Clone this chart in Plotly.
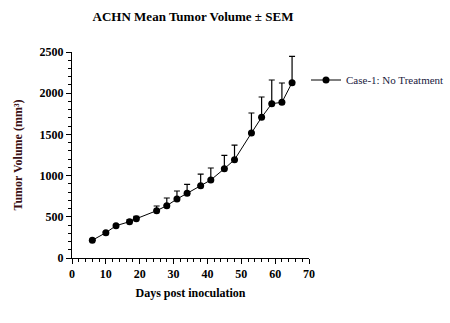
import plotly.graph_objects as go

days = [6, 10, 13, 17, 19, 25, 28, 31, 34, 38, 41, 45, 48, 53, 56, 59, 62, 65]
mean_vol = [215, 307, 392, 441, 477, 574, 635, 716, 785, 878, 947, 1084, 1193, 1517, 1707, 1873, 1889, 2128]
sem = [8, 10, 12, 24, 29, 57, 93, 97, 109, 141, 145, 162, 178, 243, 247, 287, 235, 319]
zeros = [0] * len(days)

font_family = "Liberation Serif, Times New Roman, serif"

fig = go.Figure()
fig.add_trace(go.Scatter(
    x=days, y=mean_vol, mode="lines+markers",
    name="Case-1: No Treatment",
    line=dict(color="black", width=1),
    marker=dict(color="black", size=7, symbol="circle"),
    error_y=dict(type="data", symmetric=False, array=sem, arrayminus=zeros,
                 color="black", thickness=1.2, width=3),
))

fig.update_layout(
    width=450, height=323, autosize=False,
    margin=dict(l=72, r=141, t=52, b=65, autoexpand=False),
    paper_bgcolor="white", plot_bgcolor="white",
    font=dict(family=font_family, color="black"),
    title=dict(text="<b>ACHN Mean Tumor Volume ± SEM</b>", xref="container", x=193 / 450, xanchor="center",
               yref="container", y=1 - 16 / 323, yanchor="middle",
               font=dict(size=13, family=font_family, color="black")),
    showlegend=True,
    legend=dict(xref="container", yref="container", x=306 / 450, y=1 - 80 / 323,
                xanchor="left", yanchor="middle", bgcolor="rgba(0,0,0,0)",
                font=dict(size=11, family=font_family, color="#1a1a40"), itemwidth=30),
    xaxis=dict(range=[0, 70], tickvals=[0, 10, 20, 30, 40, 50, 60, 70],
               showgrid=False, zeroline=False, showline=True, linecolor="black", linewidth=1,
               ticks="outside", ticklen=5, tickcolor="black", tickwidth=1,
               minor=dict(dtick=2, ticks="outside", ticklen=3, tickcolor="black", showgrid=False),
               tickfont=dict(size=12, family=font_family, color="black", weight="bold"),
               title=dict(text="<b>Days post inoculation</b>", standoff=8,
                          font=dict(size=12, family=font_family, color="black"))),
    yaxis=dict(range=[0, 2500], tickvals=[0, 500, 1000, 1500, 2000, 2500],
               showgrid=False, zeroline=False, showline=True, linecolor="black", linewidth=1,
               ticks="outside", ticklen=5, tickcolor="black", tickwidth=1,
               minor=dict(dtick=100, ticks="outside", ticklen=3, tickcolor="black", showgrid=False),
               tickfont=dict(size=12, family=font_family, color="black", weight="bold"),
               title=dict(text="<b>Tumor Volume (mm³)</b>", standoff=14,
                          font=dict(size=12, family=font_family, color="#3b1014"))),
)

fig.write_html("out.html")
